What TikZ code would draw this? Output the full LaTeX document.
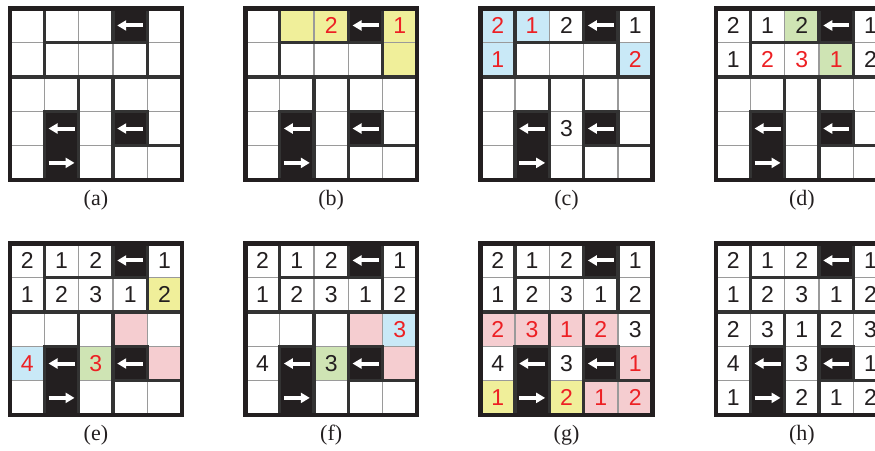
\documentclass[tikz,border=0pt]{standalone}
\usepackage{fontspec}
\setmainfont{Liberation Serif}
\newfontfamily\digitfont{Liberation Sans}
\usetikzlibrary{arrows.meta}
\definecolor{ink}{HTML}{231F20}
\definecolor{darkline}{HTML}{333333}
\definecolor{lightline}{HTML}{9A9A9A}
\definecolor{numred}{HTML}{ED2024}
\definecolor{cpink}{HTML}{F5CDD0}
\definecolor{cyellow}{HTML}{F0EF9A}
\definecolor{cblue}{HTML}{C9E9F7}
\definecolor{cgreen}{HTML}{CFE4B4}
\tikzset{
  thinline/.style={draw=lightline, line width=1.3pt},
  thickline/.style={draw=darkline, line width=3.2pt, line cap=rect},
  outerline/.style={draw=ink, line width=4.5pt},
  cellarrow/.style={draw=white, line width=4pt, -{Triangle[length=9pt,width=10pt]}},
  num/.style={font=\digitfont\fontsize{23}{23}\selectfont, text=ink, inner sep=0pt},
  rednum/.style={num, text=numred},
  panellabel/.style={font=\fontsize{22}{22}\selectfont, text=ink, inner sep=0pt},
}
% fill of one cell: col, row, colour
\newcommand\cellfill[3]{\fill[#3] (#1-1,#2-1) rectangle (#1,#2);}
% number in one cell: name, col, row, style, digit
\newcommand\cellno[5]{\node[#4] (#1) at (#2-0.5,#3-0.5) {#5};}
\newcommand\gridlines{%
  \foreach \i in {1,2,3,4}{\draw[thinline] (\i,0) -- (\i,5); \draw[thinline] (0,\i) -- (5,\i);}
  \fill[ink] (3,0) rectangle (4,1);
  \fill[ink] (1,3) rectangle (2,5);
  \fill[ink] (3,3) rectangle (4,4);
  \draw[thickline] (1,1) -- (4,1) (0,2) -- (5,2) (1,3) -- (2,3) (3,3) -- (4,3) (3,4) -- (5,4)
    (1,0) -- (1,2) (1,3) -- (1,5) (2,2) -- (2,5) (3,0) -- (3,1) (3,2) -- (3,5)
    (4,0) -- (4,2) (4,3) -- (4,4);
  \draw[outerline] (0,0) rectangle (5,5);
  \draw[cellarrow] (3.878,0.5) -- (3.122,0.5);
  \draw[cellarrow] (1.878,3.5) -- (1.122,3.5);
  \draw[cellarrow] (1.122,4.5) -- (1.878,4.5);
  \draw[cellarrow] (3.878,3.5) -- (3.122,3.5);
}
% x0, y0, fills, numbers, label letter
\newcommand\panel[5]{%
  \begin{scope}[shift={(#1,#2)},x=34.35pt,y=-34.35pt]
    #3
    \gridlines
    #4
  \end{scope}
  \node[panellabel] (lab#5) at (#1+85.9,#2+191.7) {(#5)};
}
\newcommand\toprows[1]{%
  \cellno{#1r1c1}{1}{1}{num}{2}\cellno{#1r1c2}{2}{1}{num}{1}\cellno{#1r1c3}{3}{1}{num}{2}\cellno{#1r1c5}{5}{1}{num}{1}
  \cellno{#1r2c1}{1}{2}{num}{1}\cellno{#1r2c2}{2}{2}{num}{2}\cellno{#1r2c3}{3}{2}{num}{3}\cellno{#1r2c4}{4}{2}{num}{1}\cellno{#1r2c5}{5}{2}{num}{2}
}
\begin{document}
\begin{tikzpicture}[x=1pt,y=-1pt]
\clip (0,0) rectangle (875,450);
\useasboundingbox (0,0) rectangle (875,450);
% (a)
\panel{10}{8.3}{}{}{a}
% (b)
\panel{245.3}{8.3}{%
  \cellfill{2}{1}{cyellow}\cellfill{3}{1}{cyellow}\cellfill{5}{1}{cyellow}\cellfill{5}{2}{cyellow}}{%
  \cellno{br1c3}{3}{1}{rednum}{2}\cellno{br1c5}{5}{1}{rednum}{1}}{b}
% (c)
\panel{480.6}{8.3}{%
  \cellfill{1}{1}{cblue}\cellfill{2}{1}{cblue}\cellfill{1}{2}{cblue}\cellfill{5}{2}{cblue}}{%
  \cellno{cr1c1}{1}{1}{rednum}{2}\cellno{cr1c2}{2}{1}{rednum}{1}\cellno{cr1c3}{3}{1}{num}{2}\cellno{cr1c5}{5}{1}{num}{1}
  \cellno{cr2c1}{1}{2}{rednum}{1}\cellno{cr2c5}{5}{2}{rednum}{2}\cellno{cr4c3}{3}{4}{num}{3}}{c}
% (d)
\panel{716}{8.3}{%
  \cellfill{3}{1}{cgreen}\cellfill{4}{2}{cgreen}}{%
  \cellno{dr1c1}{1}{1}{num}{2}\cellno{dr1c2}{2}{1}{num}{1}\cellno{dr1c3}{3}{1}{num}{2}\cellno{dr1c5}{5}{1}{num}{1}
  \cellno{dr2c1}{1}{2}{num}{1}\cellno{dr2c2}{2}{2}{rednum}{2}\cellno{dr2c3}{3}{2}{rednum}{3}\cellno{dr2c4}{4}{2}{rednum}{1}\cellno{dr2c5}{5}{2}{num}{2}}{d}
% (e)
\panel{10}{243.3}{%
  \cellfill{5}{2}{cyellow}\cellfill{4}{3}{cpink}\cellfill{5}{4}{cpink}\cellfill{1}{4}{cblue}\cellfill{3}{4}{cgreen}}{%
  \toprows{e}\cellno{er4c1}{1}{4}{rednum}{4}\cellno{er4c3}{3}{4}{rednum}{3}}{e}
% (f)
\panel{245.3}{243.3}{%
  \cellfill{4}{3}{cpink}\cellfill{5}{4}{cpink}\cellfill{5}{3}{cblue}\cellfill{3}{4}{cgreen}}{%
  \toprows{f}\cellno{fr3c5}{5}{3}{rednum}{3}\cellno{fr4c1}{1}{4}{num}{4}\cellno{fr4c3}{3}{4}{num}{3}}{f}
% (g)
\panel{480.6}{243.3}{%
  \cellfill{1}{3}{cpink}\cellfill{2}{3}{cpink}\cellfill{3}{3}{cpink}\cellfill{4}{3}{cpink}
  \cellfill{5}{4}{cpink}\cellfill{4}{5}{cpink}\cellfill{5}{5}{cpink}
  \cellfill{1}{5}{cyellow}\cellfill{3}{5}{cyellow}}{%
  \toprows{g}
  \cellno{gr3c1}{1}{3}{rednum}{2}\cellno{gr3c2}{2}{3}{rednum}{3}\cellno{gr3c3}{3}{3}{rednum}{1}\cellno{gr3c4}{4}{3}{rednum}{2}\cellno{gr3c5}{5}{3}{num}{3}
  \cellno{gr4c1}{1}{4}{num}{4}\cellno{gr4c3}{3}{4}{num}{3}\cellno{gr4c5}{5}{4}{rednum}{1}
  \cellno{gr5c1}{1}{5}{rednum}{1}\cellno{gr5c3}{3}{5}{rednum}{2}\cellno{gr5c4}{4}{5}{rednum}{1}\cellno{gr5c5}{5}{5}{rednum}{2}}{g}
% (h)
\panel{716}{243.3}{}{%
  \toprows{h}
  \cellno{hr3c1}{1}{3}{num}{2}\cellno{hr3c2}{2}{3}{num}{3}\cellno{hr3c3}{3}{3}{num}{1}\cellno{hr3c4}{4}{3}{num}{2}\cellno{hr3c5}{5}{3}{num}{3}
  \cellno{hr4c1}{1}{4}{num}{4}\cellno{hr4c3}{3}{4}{num}{3}\cellno{hr4c5}{5}{4}{num}{1}
  \cellno{hr5c1}{1}{5}{num}{1}\cellno{hr5c3}{3}{5}{num}{2}\cellno{hr5c4}{4}{5}{num}{1}\cellno{hr5c5}{5}{5}{num}{2}}{h}
\end{tikzpicture}
\end{document}
